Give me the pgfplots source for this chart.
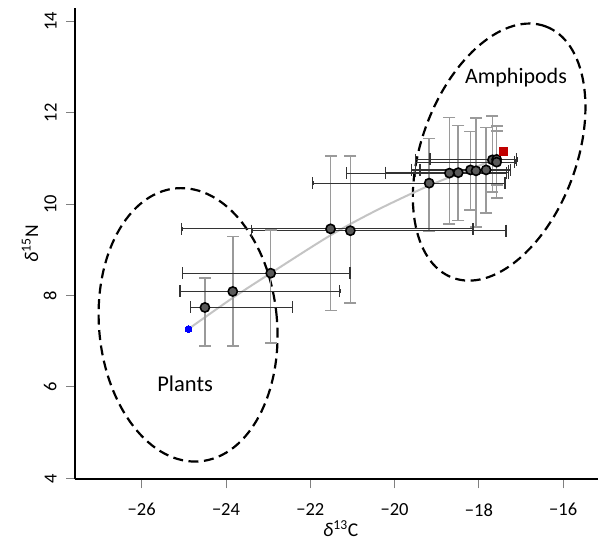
\documentclass[border=0pt]{standalone}
\usepackage{pgfplots}
\usepackage{pgfplotstable}
\pgfplotsset{compat=1.18}
\usepackage{fontspec}
\setmainfont{Carlito}
\definecolor{vbar}{HTML}{9A9A9A}
\definecolor{hbar}{HTML}{333333}
\definecolor{ptfill}{HTML}{5A5A5A}
\definecolor{trend}{HTML}{C4C4C4}
\definecolor{redsq}{HTML}{C00000}
\pgfplotstableread{
x y xm xp ym yp
-24.50 7.74 0.35 2.08 0.84 0.65
-23.84 8.09 1.25 2.54 1.19 1.20
-22.94 8.49 2.09 1.88 1.53 0.95
-21.52 9.46 3.53 3.38 1.79 1.59
-21.05 9.42 2.34 3.69 1.58 1.63
-19.18 10.46 2.76 1.80 1.06 0.98
-18.70 10.68 2.45 1.35 1.11 1.22
-18.49 10.69 1.73 1.19 1.05 1.03
-18.20 10.75 1.40 0.95 0.88 0.84
-18.07 10.73 1.43 0.77 1.23 1.15
-17.83 10.75 1.57 0.58 0.94 0.93
-17.68 10.97 1.83 0.58 0.70 0.96
-17.58 10.98 1.58 0.48 0.85 0.73
-17.58 10.92 1.93 0.43 0.50 0.68
}\data
\pgfplotstableread{
x y
-24.89 7.27
-23.84 7.95
-22.94 8.49
-21.52 9.32
-20.42 9.87
-19.20 10.40
-18.30 10.73
-17.66 10.97
}\trendline
\begin{document}
\begin{tikzpicture}
\path[use as bounding box] (-75.4bp,-62.7bp) rectangle (522.6bp,479.3bp);
\begin{axis}[
  at={(0,0)}, anchor=south west,
  scale only axis, width=522.6bp, height=471.3bp,
  xmin=-27.573, xmax=-15.175, ymin=3.98, ymax=14.293,
  axis x line*=bottom, axis y line*=left,
  axis line style={-, line width=2bp, black},
  xtick={-26,-24,-22,-20,-18,-16},
  xticklabels={−26,−24,−22,−20,−18,−16},
  ytick={4,6,8,10,12,14},
  yticklabels={4,6,8,10,12,14},
  tick align=outside,
  major tick length=9bp,
  every tick/.style={line width=1bp, color=gray},
  tick label style={font=\fontsize{18.5bp}{22bp}\selectfont, inner sep=0pt},
  xticklabel style={anchor=north},
  yticklabel style={rotate=90, anchor=south},
  xticklabel shift=15bp,
  yticklabel shift=9.7bp,
  xlabel={\textit{δ}\textsuperscript{13}C},
  ylabel={\textit{δ}\textsuperscript{15}N},
  label style={font=\fontsize{19.5bp}{23bp}\selectfont, inner sep=0pt},
  xlabel style={at={(axis description cs:0.5,0)}, anchor=base, yshift=-57.3bp, xshift=4bp},
  ylabel style={at={(axis description cs:0,0.5)}, anchor=center, yshift=45.4bp},
  clip=false,
]
% ellipses
\draw[black, line width=2.2bp, dash pattern=on 10bp off 5.5bp, rotate around={69.7:(axis cs:-17.52,11.14)}]
  (axis cs:-17.52,11.14) ellipse [x radius=134bp, y radius=77.5bp];
\draw[black, line width=2.2bp, dash pattern=on 10bp off 5.5bp, rotate around={5:(axis cs:-24.90,7.36)}]
  (axis cs:-24.90,7.36) ellipse [x radius=89bp, y radius=137bp];
% trend line
\addplot[trend, line width=2bp, smooth, no marks] table[x=x, y=y] {\trendline};
% vertical error bars
\addplot[vbar, only marks, mark=none,
  error bars/.cd, y dir=both, y explicit,
  error bar style={line width=1.6bp, draw=vbar}]
  table[x=x, y=y, y error minus=ym, y error plus=yp] {\data};
\addplot[only marks, mark=-, mark size=6bp, mark options={draw=vbar, line width=1.6bp}]
  table[x=x, y expr=\thisrow{y}+\thisrow{yp}] {\data};
\addplot[only marks, mark=-, mark size=6bp, mark options={draw=vbar, line width=1.6bp}]
  table[x=x, y expr=\thisrow{y}-\thisrow{ym}] {\data};
% horizontal error bars
\addplot[hbar, only marks, mark=none,
  error bars/.cd, x dir=both, x explicit,
  error bar style={line width=1.2bp, draw=hbar}]
  table[x=x, y=y, x error minus=xm, x error plus=xp] {\data};
\addplot[only marks, mark=|, mark size=6bp, mark options={draw=hbar, line width=1.2bp}]
  table[x expr=\thisrow{x}-\thisrow{xm}, y=y] {\data};
\addplot[only marks, mark=|, mark size=6bp, mark options={draw=hbar, line width=1.2bp}]
  table[x expr=\thisrow{x}+\thisrow{xp}, y=y] {\data};
% points
\addplot[only marks, mark=*, mark size=4.6bp, mark options={fill=ptfill, draw=black, line width=1.6bp}]
  table[x=x, y=y] {\data};
\addplot[only marks, mark=*, mark size=3.4bp, mark options={fill=blue, draw=blue, line width=0pt}]
  coordinates {(-24.89,7.27)};
\addplot[only marks, mark=square*, mark size=4bp, mark options={fill=redsq, draw=redsq, line width=0pt}]
  coordinates {(-17.41,11.15)};
\node[anchor=base, font=\fontsize{22.5bp}{26bp}\selectfont, inner sep=0pt] at (axis cs:-24.97,5.90) {Plants};
\node[anchor=base, font=\fontsize{22bp}{26bp}\selectfont, inner sep=0pt] at (axis cs:-17.12,12.65) {Amphipods};
\end{axis}
\end{tikzpicture}
\end{document}
